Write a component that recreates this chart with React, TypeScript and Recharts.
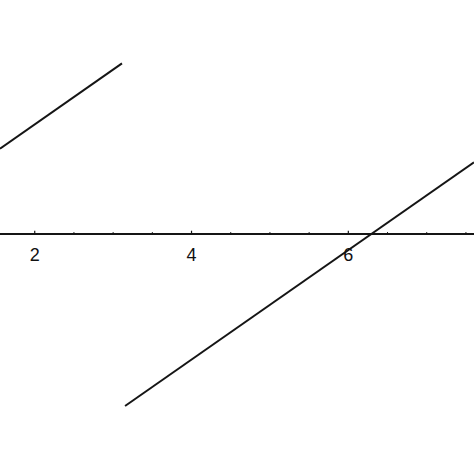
import { LineChart, Line, XAxis, YAxis, ReferenceLine } from 'recharts';

// Two branches of the sawtooth, endpoints
const branchAX = [1.557, 3.113];
const branchAY = [1.557, 3.113];
const branchBX = [3.152, 7.603];
const branchBY = [-3.14, 1.31];

const X_DOMAIN: [number, number] = [1.557, 7.603];
const Y_DOMAIN: [number, number] = [-4.38, 4.27];

const majorTicks = [2, 4, 6];
const minorTicks = [2.5, 3, 3.5, 4.5, 5, 5.5, 6.5, 7, 7.5];

const INK = '#151515';

// one table, each branch in its own key so the jump stays open
const data = [
  ...branchAX.map((x, i) => ({ x, a: branchAY[i] as number | null, b: null as number | null })),
  ...branchBX.map((x, i) => ({ x, a: null as number | null, b: branchBY[i] as number | null })),
];

export default function App() {
  return (
    <div style={{ position: 'absolute', left: 0, top: 0, background: '#fff' }}>
      <LineChart width={474} height={474} data={data} margin={{ top: 0, right: 0, bottom: 0, left: 0 }}>
        <XAxis type="number" dataKey="x" domain={X_DOMAIN} allowDataOverflow hide />
        <YAxis type="number" domain={Y_DOMAIN} allowDataOverflow hide />

        <ReferenceLine y={0} stroke={INK} strokeWidth={1.8} ifOverflow="visible" />

        {minorTicks.map((t) => (
          <ReferenceLine
            key={'m' + t}
            segment={[{ x: t, y: 0 }, { x: t, y: 0.035 }]}
            stroke={INK}
            strokeWidth={1}
          />
        ))}
        {majorTicks.map((t) => (
          <ReferenceLine
            key={'M' + t}
            segment={[{ x: t, y: 0 }, { x: t, y: 0.06 }]}
            stroke={INK}
            strokeWidth={1.2}
            label={{
              value: String(t),
              position: 'bottom',
              offset: 14,
              fill: '#111',
              fontSize: 18,
              fontFamily: '"Liberation Sans", Arial, sans-serif',
            }}
          />
        ))}

        <Line
          dataKey="a"
          type="linear"
          stroke={INK}
          strokeWidth={2}
          dot={false}
          activeDot={false}
          connectNulls={false}
          isAnimationActive={false}
        />
        <Line
          dataKey="b"
          type="linear"
          stroke={INK}
          strokeWidth={2}
          dot={false}
          activeDot={false}
          connectNulls={false}
          isAnimationActive={false}
        />
      </LineChart>
    </div>
  );
}
